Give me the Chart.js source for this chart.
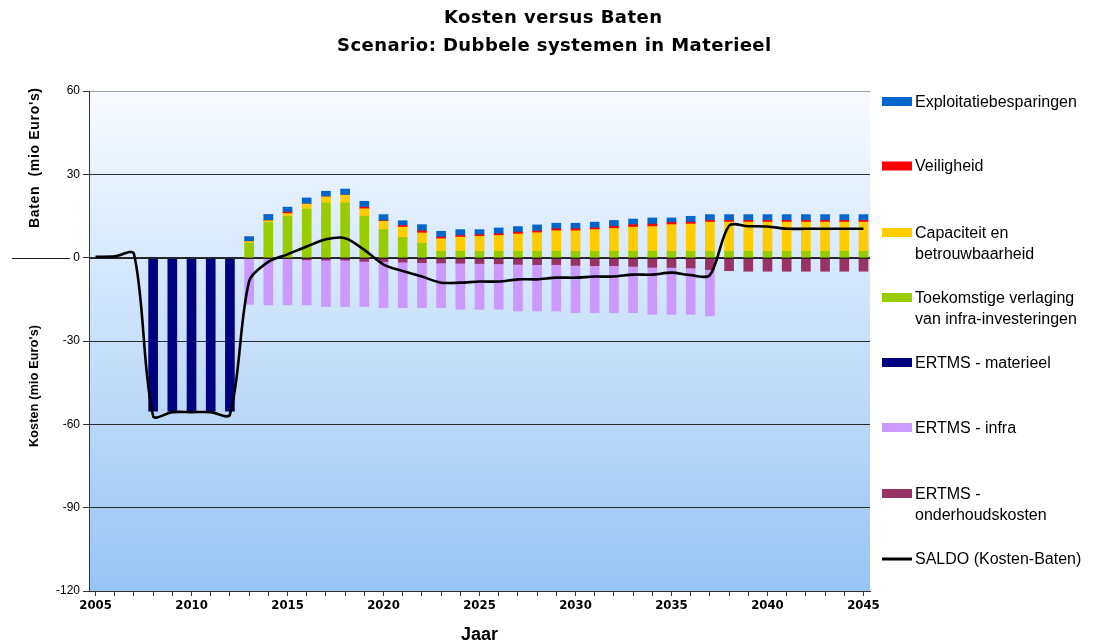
<!DOCTYPE html>
<html><head><meta charset="utf-8">
<script src="https://cdn.jsdelivr.net/npm/chart.js@4.4.0/dist/chart.umd.min.js"></script>
<style>html,body{margin:0;padding:0;background:#fff;}canvas{display:block}</style>
</head><body>
<canvas id="c" width="1099" height="643"></canvas>
<script>
// ---------- DATA ----------
const years = [2005,2006,2007,2008,2009,2010,2011,2012,2013,2014,2015,2016,2017,2018,2019,2020,2021,2022,2023,2024,2025,2026,2027,2028,2029,2030,2031,2032,2033,2034,2035,2036,2037,2038,2039,2040,2041,2042,2043,2044,2045];
const xTickLabels = ['2005','2010','2015','2020','2025','2030','2035','2040','2045'];
const yTickValues = [60,30,0,-30,-60,-90,-120];

const N8 = [null,null,null,null,null,null,null,null]; // 2005-2012
// Baten (positive)
const toekomstigeVerlaging = N8.concat([5.3,12.7,14.9,17.5,19.7,19.7,14.9,10.1,7.3,5.2,2.3,2.3,2.3,2.3,2.3,2.3,2.3,2.3,2.3,2.3,2.3,2.3,2.3,2.3,2.3,2.3,2.3,2.3,2.3,2.3,2.3,2.3,2.3]);
const capaciteit = N8.concat([0.5,0.6,1.0,1.8,2.2,2.8,2.7,3.0,3.7,3.7,4.5,5.1,5.4,5.7,6.2,6.7,7.4,7.4,7.8,8.2,8.7,8.9,9.6,9.8,10.5,10.5,10.5,10.5,10.5,10.5,10.5,10.5,10.5]);
const veiligheid = N8.concat([0,0,0.5,0,0,0,0.6,0.2,0.6,0.8,0.6,0.6,0.6,0.6,0.7,0.6,0.7,0.7,0.6,0.8,0.9,0.9,0.8,0.7,0.6,0.6,0.6,0.6,0.6,0.6,0.6,0.6,0.6]);
const exploitatie = N8.concat([1.7,2.2,1.8,2.2,2.0,2.2,2.1,2.2,1.7,2.2,2.1,2.1,1.8,2.1,2.0,2.2,2.0,2.0,2.1,2.1,2.0,2.2,1.6,2.1,2.1,2.1,2.1,2.1,2.1,2.1,2.1,2.1,2.1]);
// Kosten (negative)
const materieel = [null,null,null,-55.3,-55.3,-55.3,-55.3,-55.3,null,null,null,null,null,null,null,null,null,null,null,null,null,null,null,null,null,null,null,null,null,null,null,null,null,null,null,null,null,null,null,null,null];
const onderhoud = N8.concat([0,0,-0.3,-0.8,-0.9,-0.9,-1.3,-1.4,-1.6,-1.8,-1.9,-2.0,-2.1,-2.2,-2.4,-2.5,-2.5,-2.8,-2.9,-2.9,-3.1,-3.5,-3.5,-3.7,-4.3,-4.7,-4.9,-4.9,-4.9,-4.9,-4.9,-4.9,-4.9]);
const infra = N8.concat([-16.8,-17.0,-16.7,-16.2,-16.7,-16.7,-16.3,-16.6,-16.4,-16.2,-16.1,-16.6,-16.5,-16.4,-16.8,-16.7,-16.7,-17.0,-16.9,-16.9,-16.7,-16.9,-16.9,-16.7,-16.7,null,null,null,null,null,null,null,null]);
// Saldo line
const saldo = [0.3,0.5,1.4,-57,-55.6,-55.6,-55.6,-56.5,-8.5,-1.5,1.2,4.0,6.6,7.0,2.8,-2.5,-4.8,-6.8,-9.0,-9.0,-8.6,-8.6,-7.8,-7.8,-7.2,-7.2,-6.8,-6.8,-6.1,-6.1,-5.4,-6.3,-6.3,11.5,11.3,11.2,10.4,10.4,10.4,10.4,10.4];

const seriesNames = {
  exploitatie: 'Exploitatiebesparingen',
  veiligheid: 'Veiligheid',
  capaciteit: 'Capaciteit en betrouwbaarheid',
  toekomstig: 'Toekomstige verlaging van infra-investeringen',
  materieel: 'ERTMS - materieel',
  infra: 'ERTMS - infra',
  onderhoud: 'ERTMS - onderhoudskosten',
  saldo: 'SALDO (Kosten-Baten)'
};
const titleLines = ['Kosten versus Baten', 'Scenario: Dubbele systemen in Materieel'];
const xTitle = 'Jaar';
const yTitleTop = "Baten  (mio Euro's)";
const yTitleBottom = "Kosten (mio Euro's)";

// ---------- STYLE ----------
const COL = {
  exploitatie: '#0066cc', veiligheid: '#ff0000', capaciteit: '#ffcc00', toekomstig: '#99cc00',
  materieel: '#000080', infra: '#cc99ff', onderhoud: '#993366', saldo: '#000000'
};

function fitText(ctx, text, cx, y, width) {
  ctx.letterSpacing = '0px';
  const w = ctx.measureText(text).width;
  const sp = Math.max(0, (width - w) / Math.max(1, text.length - 1));
  ctx.letterSpacing = sp.toFixed(2) + 'px';
  ctx.textAlign = 'left';
  ctx.fillText(text, cx - width / 2, y);
  ctx.letterSpacing = '0px';
}

const deco = {
  id: 'deco',
  beforeDraw(chart) {
    const {ctx, chartArea: a} = chart;
    ctx.save();
    ctx.fillStyle = '#ffffff';
    ctx.fillRect(0, 0, chart.width, chart.height);
    const g = ctx.createLinearGradient(0, a.top, 0, a.bottom);
    g.addColorStop(0, '#f8fbff');
    g.addColorStop(1, '#97c5f5');
    ctx.fillStyle = g;
    ctx.fillRect(a.left, a.top, a.right - a.left, a.bottom - a.top);
    ctx.restore();
  },
  beforeDatasetDraw(chart, args) {
    if (args.meta.type !== 'line') return;
    const {ctx, chartArea: a, scales} = chart;
    const y0 = Math.round(scales.y.getPixelForValue(0)) + 0.5;
    ctx.save();
    ctx.strokeStyle = '#222';
    ctx.lineWidth = 1;
    ctx.beginPath();
    ctx.moveTo(a.left, y0); ctx.lineTo(a.right, y0);
    ctx.stroke();
    ctx.restore();
  },
  afterDraw(chart) {
    const {ctx, chartArea: a, scales} = chart;
    ctx.save();
    ctx.fillStyle = '#000';
    // title
    ctx.font = 'bold 18px "DejaVu Sans", Verdana, sans-serif';
    ctx.textBaseline = 'alphabetic';
    fitText(ctx, titleLines[0], 553, 23, 218);
    fitText(ctx, titleLines[1], 554, 51, 434);
    // x title
    ctx.font = 'bold 18px "Liberation Sans", Arial, sans-serif';
    ctx.textAlign = 'center';
    ctx.fillText(xTitle, (a.left + a.right) / 2, 640);
    // y titles
    ctx.textBaseline = 'middle';
    ctx.save();
    ctx.translate(35, 158);
    ctx.rotate(-Math.PI / 2);
    ctx.font = 'bold 14px "Liberation Sans", Arial, sans-serif';
    fitText(ctx, yTitleTop, 0, 0, 140);
    ctx.restore();
    ctx.save();
    ctx.translate(35, 386);
    ctx.rotate(-Math.PI / 2);
    ctx.font = 'bold 12.5px "Liberation Sans", Arial, sans-serif';
    fitText(ctx, yTitleBottom, 0, 0, 122);
    ctx.restore();
    // extra zero line at the left
    const y0 = Math.round(scales.y.getPixelForValue(0)) + 0.5;
    ctx.strokeStyle = '#222';
    ctx.lineWidth = 1;
    ctx.beginPath(); ctx.moveTo(12, y0); ctx.lineTo(70, y0); ctx.stroke();
    // legend
    const items = [
      {key: 'exploitatie', lines: [seriesNames.exploitatie], y: 101.5},
      {key: 'veiligheid', lines: [seriesNames.veiligheid], y: 166},
      {key: 'capaciteit', lines: ['Capaciteit en', 'betrouwbaarheid'], y: 232.5},
      {key: 'toekomstig', lines: ['Toekomstige verlaging', 'van infra-investeringen'], y: 297.5},
      {key: 'materieel', lines: [seriesNames.materieel], y: 362.5},
      {key: 'infra', lines: [seriesNames.infra], y: 427.5},
      {key: 'onderhoud', lines: ['ERTMS -', 'onderhoudskosten'], y: 493.5},
      {key: 'saldo', lines: [seriesNames.saldo], y: 559, line: true}
    ];
    ctx.font = '16px "Liberation Sans", Arial, sans-serif';
    ctx.textAlign = 'left';
    ctx.textBaseline = 'middle';
    items.forEach(it => {
      if (it.line) {
        ctx.strokeStyle = COL[it.key];
        ctx.lineWidth = 3;
        ctx.beginPath(); ctx.moveTo(882, it.y); ctx.lineTo(912, it.y); ctx.stroke();
      } else {
        ctx.fillStyle = COL[it.key];
        ctx.fillRect(882, it.y - 4.5, 30, 9);
      }
      ctx.fillStyle = '#000';
      it.lines.forEach((t, i) => ctx.fillText(t, 915, it.y + 1 + i * 20.7));
    });
    ctx.restore();
  }
};

const barDs = (label, data, color) => ({
  type: 'bar', label, data, backgroundColor: color, borderWidth: 0,
  stack: 'kb', order: 1, barThickness: 9
});

new Chart(document.getElementById('c'), {
  type: 'bar',
  data: {
    labels: years,
    datasets: [
      barDs(seriesNames.toekomstig, toekomstigeVerlaging, COL.toekomstig),
      barDs(seriesNames.capaciteit, capaciteit, COL.capaciteit),
      barDs(seriesNames.veiligheid, veiligheid, COL.veiligheid),
      barDs(seriesNames.exploitatie, exploitatie, COL.exploitatie),
      barDs(seriesNames.materieel, materieel, COL.materieel),
      barDs(seriesNames.onderhoud, onderhoud, COL.onderhoud),
      barDs(seriesNames.infra, infra, COL.infra),
      {type: 'line', label: seriesNames.saldo, data: saldo, borderColor: COL.saldo, borderWidth: 2.6,
       pointRadius: 0, tension: 0.3, fill: false, stack: 'saldo', order: 0, clip: false}
    ]
  },
  options: {
    responsive: false,
    animation: false,
    events: [],
    layout: {padding: {top: 91, right: 229, bottom: 0, left: 0}},
    plugins: {legend: {display: false}, title: {display: false}, tooltip: {enabled: false}},
    scales: {
      x: {
        type: 'linear', min: 2004.66, max: 2045.34, stacked: true, offset: false,
        afterBuildTicks: s => { s.ticks = years.map(v => ({value: v})); },
        afterFit: s => { s.height = 52; },
        grid: {drawOnChartArea: false, drawTicks: true, tickLength: 5, color: '#333', offset: false},
        border: {color: '#333', width: 1},
        ticks: {
          autoSkip: false, maxRotation: 0, minRotation: 0, padding: 2, color: '#000',
          font: {family: '"Liberation Sans Narrow", "DejaVu Sans Condensed", "Liberation Sans", Arial', size: 13, weight: 'bold'},
          callback: v => xTickLabels.includes(String(v)) ? String(v) : ''
        }
      },
      y: {
        min: -120, max: 60, stacked: true,
        afterBuildTicks: s => { s.ticks = yTickValues.map(v => ({value: v})); },
        afterFit: s => { s.width = 89; },
        grid: {
          color: c => (c.tick && c.tick.value === 60) ? '#a0a0a0' : '#2a2a2a',
          tickColor: '#333', tickLength: 6, drawTicks: true, lineWidth: 1
        },
        border: {color: '#333', width: 1},
        ticks: {padding: 3, color: '#000', font: {family: '"Liberation Sans", Arial', size: 12}}
      }
    }
  },
  plugins: [deco]
});
</script>
</body></html>
